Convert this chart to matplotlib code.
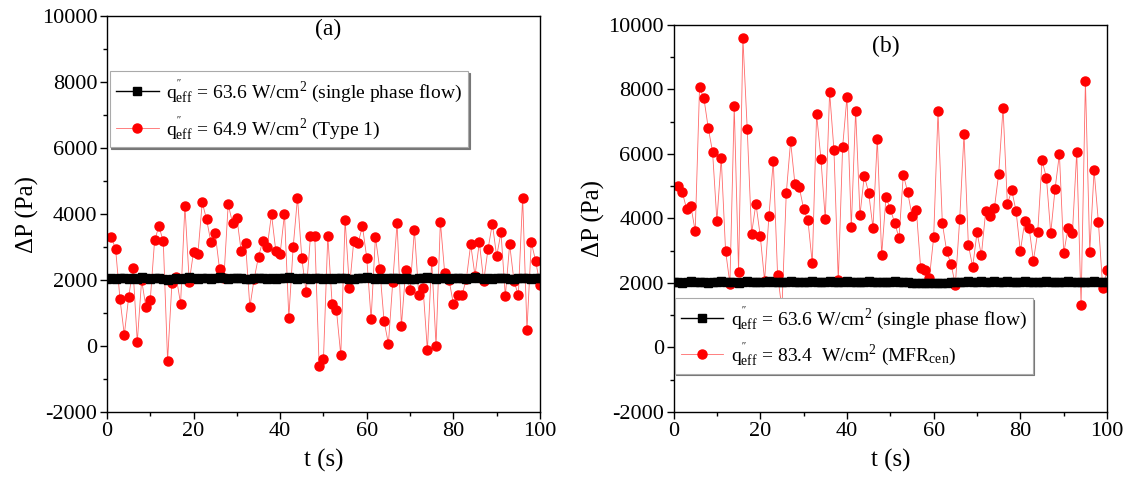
import matplotlib
matplotlib.use("Agg")
import matplotlib.pyplot as plt

plt.rcParams["font.family"] = ["Liberation Serif", "DejaVu Serif"]
plt.rcParams["mathtext.fontset"] = "custom"
plt.rcParams["mathtext.rm"] = "Liberation Serif"
plt.rcParams["mathtext.it"] = "Liberation Serif:italic"
plt.rcParams["axes.unicode_minus"] = False

# ---- data ----
t_red = list(range(1, 101))
t_black = list(range(0, 101))

dp_a_type1 = [
    3310, 2930, 1430, 340, 1470, 2360, 120, 2000, 1180, 1400,
    3200, 3630, 3170, -440, 1900, 2090, 1280, 4250, 1950, 2860,
    2790, 4350, 3840, 3150, 3410, 2330, 2060, 4300, 3720, 3880,
    2870, 3120, 1180, 2040, 2710, 3190, 3000, 3990, 2870, 2800,
    4010, 860, 2990, 4500, 2660, 1630, 3320, 3320, -600, -390,
    3340, 1280, 1080, -280, 3830, 1760, 3190, 3120, 3630, 2670,
    810, 3300, 2340, 750, 70, 1940, 3730, 620, 2290, 1700,
    3520, 1550, 1760, -130, 2590, 10, 3770, 2210, 2000, 1280,
    1550, 1550, 2030, 3080, 2130, 3140, 1970, 2930, 3710, 2720,
    3440, 1510, 3080, 1970, 1540, 4500, 490, 3140, 2580, 1860,
]

dp_a_single = [
    2030, 2060, 2040, 2070, 2050, 2020, 2060, 2040, 2080, 2050,
    2030, 2070, 2060, 2040, 2010, 2030, 2050, 2020, 2060, 2080,
    2050, 2040, 2070, 2060, 2030, 2050, 2080, 2060, 2040, 2050,
    2070, 2060, 2040, 2030, 2060, 2050, 2070, 2040, 2060, 2030,
    2050, 2070, 2080, 2060, 2040, 2050, 2060, 2030, 2050, 2070,
    2040, 2060, 2030, 2050, 2070, 2060, 2040, 2020, 2050, 2070,
    2080, 2050, 2040, 2060, 2030, 2050, 2070, 2060, 2040, 2050,
    2020, 2040, 2060, 2050, 2080, 2070, 2040, 2060, 2050, 2030,
    2060, 2070, 2050, 2040, 2060, 2080, 2050, 2030, 2060, 2040,
    2070, 2050, 2060, 2040, 2030, 2060, 2050, 2070, 2040, 2060,
    2050,
]

dp_b_mfr = [
    5000, 4830, 4300, 4390, 3600, 8070, 7730, 6810, 6070, 3930,
    5870, 3000, 1980, 7480, 2350, 9590, 6760, 3530, 4460, 3460,
    2070, 4070, 5790, 2250, 1200, 4780, 6390, 5070, 4970, 4300,
    3940, 2610, 7230, 5840, 3970, 7920, 6120, 2080, 6220, 7770,
    3730, 7340, 4110, 5330, 4800, 3710, 6470, 2870, 4660, 4290,
    3870, 3400, 5360, 4820, 4090, 4270, 2460, 2400, 2140, 3420,
    7320, 3850, 2990, 2580, 1950, 3970, 6620, 3180, 2500, 3570,
    2860, 4230, 4070, 4320, 5390, 7430, 4440, 4880, 4230, 2980,
    3910, 3720, 2690, 3570, 5800, 5270, 3540, 4920, 6000, 2920,
    3710, 3550, 6070, 1330, 8270, 2970, 5490, 3880, 1830, 2410,
]

dp_b_single = [
    2020, 2040, 2010, 2030, 2050, 2020, 2040, 2030, 2010, 2040,
    2030, 2050, 2020, 2040, 2030, 2010, 2040, 2050, 2020, 2030,
    2040, 2020, 2050, 2030, 2040, 2020, 2030, 2050, 2040, 2020,
    2030, 2040, 2050, 2020, 2030, 2040, 2060, 2030, 2020, 2040,
    2050, 2030, 2040, 2020, 2030, 2050, 2040, 2030, 2020, 2040,
    2030, 2050, 2020, 2040, 2030, 2010, 2000, 1990, 2000, 1990,
    2010, 2000, 1990, 2010, 2020, 2030, 2040, 2030, 2050, 2040,
    2030, 2050, 2040, 2030, 2060, 2040, 2030, 2050, 2020, 2040,
    2030, 2050, 2040, 2020, 2030, 2040, 2050, 2030, 2040, 2020,
    2030, 2050, 2040, 2030, 2020, 2040, 2030, 2050, 2020, 2040,
    2030,
]

lbl_single = r"q$^{''}_{\rm eff}$ = 63.6 W/cm$^{2}$ (single phase flow)"
lbl_a = r"q$^{''}_{\rm eff}$ = 64.9 W/cm$^{2}$ (Type 1)"
lbl_b = r"q$^{''}_{\rm eff}$ = 83.4  W/cm$^{2}$ (MFR$_{\rm cen}$)"

fig = plt.figure(figsize=(11.32, 4.93), dpi=100)
ax_a = fig.add_axes([0.0945, 0.1643, 0.3825, 0.8032])
ax_b = fig.add_axes([0.595, 0.1643, 0.383, 0.785])


def draw(ax, black, red, red_label, tag, tag_xy, leg_anchor, leg_loc):
    ax.plot(t_black, black, "-s", color="black", ms=5.5, lw=1.0, label=lbl_single, zorder=3)
    # thin pinkish connecting line, solid red markers
    ax.plot(t_red, red, "-o", color="#ff6a6a", lw=0.6, ms=6.5, mfc="red", mec="red",
            label=red_label, zorder=2)
    ax.set_xlim(0, 100)
    ax.set_ylim(-2000, 10000)
    ax.set_xticks(range(0, 101, 20))
    ax.set_xticks(range(10, 100, 20), minor=True)
    ax.set_yticks(range(-2000, 10001, 2000))
    ax.set_yticks(range(-1000, 10000, 2000), minor=True)
    ax.tick_params(which="major", direction="out", length=5, labelsize=16, width=1, pad=2)
    ax.tick_params(which="minor", direction="out", length=3, width=1)
    ax.set_xlabel("t (s)", fontsize=18, labelpad=6)
    ax.set_ylabel("ΔP (Pa)", fontsize=18, labelpad=2)
    for s in ax.spines.values():
        s.set_linewidth(1.0)
    ax.text(tag_xy[0], tag_xy[1], tag, transform=ax.transAxes, fontsize=17,
            ha="center", va="center")
    leg = ax.legend(loc=leg_loc, bbox_to_anchor=leg_anchor, fontsize=14,
                    frameon=True, fancybox=False, edgecolor="#aaaaaa",
                    shadow={"ox": 1.0, "oy": -1.0, "color": "#777777", "alpha": 1.0},
                    handlelength=2.2, handletextpad=0.4, labelspacing=0.45,
                    borderpad=0.3, borderaxespad=0)
    leg.get_frame().set_linewidth(0.8)
    leg.set_zorder(5)


draw(ax_a, dp_a_single, dp_a_type1, lbl_a, "(a)", (0.51, 0.965),
     (0.007, 0.86), "upper left")
draw(ax_b, dp_b_single, dp_b_mfr, lbl_b, "(b)", (0.49, 0.945),
     (0.003, 0.098), "lower left")

fig.savefig("out.png", dpi=100)
